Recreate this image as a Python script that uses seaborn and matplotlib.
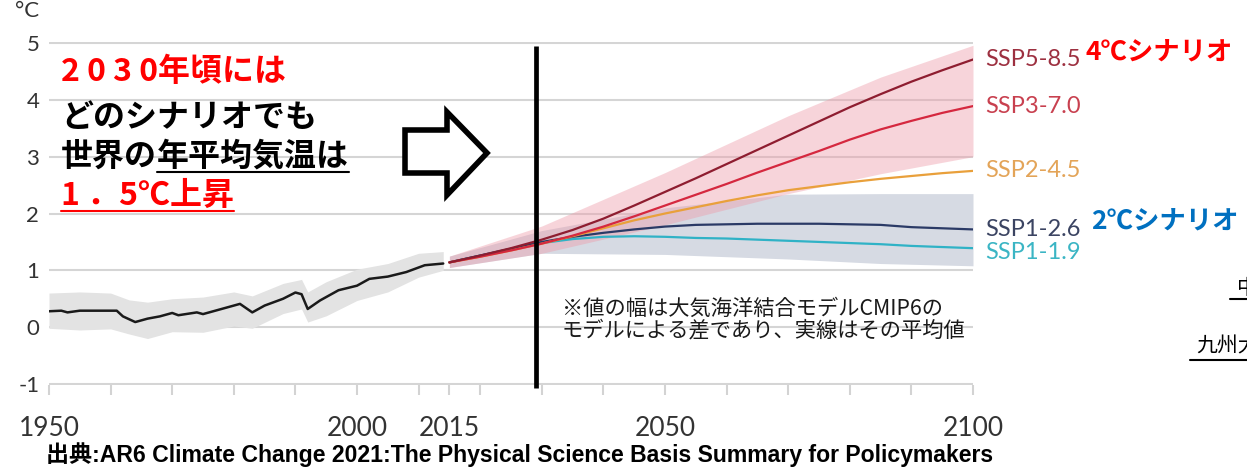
import pandas as pd
import seaborn as sns
import matplotlib.pyplot as plt
from matplotlib.patches import Polygon
from matplotlib.lines import Line2D

W, H = 1247, 469

# 観測期間（CMIP6 historical）
hist_years = [1950, 1952, 1953, 1955, 1961, 1962, 1964, 1966, 1968, 1970, 1971, 1974,
              1975, 1977, 1979, 1981, 1983, 1985, 1988, 1990, 1991, 1992, 1994, 1997,
              2000, 2002, 2005, 2008, 2011, 2014]
hist_temp = [0.28, 0.29, 0.26, 0.29, 0.29, 0.19, 0.09, 0.15, 0.19, 0.25, 0.21, 0.26,
             0.23, 0.29, 0.35, 0.41, 0.26, 0.38, 0.50, 0.61, 0.58, 0.32, 0.47, 0.65,
             0.73, 0.85, 0.89, 0.97, 1.09, 1.12]
hist_band_years = [1950, 1955, 1960, 1963, 1966, 1970, 1975, 1980, 1983, 1988, 1991,
                   1992, 1995, 2000, 2005, 2010, 2014]
hist_band_hi = [0.60, 0.62, 0.60, 0.48, 0.44, 0.50, 0.53, 0.62, 0.55, 0.77, 0.84,
                0.62, 0.80, 1.02, 1.12, 1.30, 1.33]
hist_band_lo = [-0.02, -0.05, -0.03, -0.12, -0.20, -0.08, -0.09, 0.02, -0.02, 0.24, 0.32,
                0.09, 0.20, 0.47, 0.62, 0.88, 1.00]

# シナリオ別予測
future_years = [2015, 2020, 2025, 2030, 2035, 2040, 2045, 2050, 2055, 2060,
                2065, 2070, 2075, 2080, 2085, 2090, 2095, 2100]
ssp585 = [1.14, 1.26, 1.39, 1.54, 1.71, 1.91, 2.14, 2.38, 2.62, 2.87,
          3.12, 3.37, 3.62, 3.87, 4.10, 4.32, 4.52, 4.71]
ssp370 = [1.14, 1.24, 1.35, 1.47, 1.61, 1.77, 1.95, 2.14, 2.33, 2.52,
          2.72, 2.91, 3.10, 3.30, 3.48, 3.63, 3.77, 3.89]
ssp245 = [1.14, 1.24, 1.35, 1.47, 1.60, 1.74, 1.88, 2.00, 2.11, 2.22,
          2.32, 2.41, 2.48, 2.55, 2.61, 2.66, 2.71, 2.75]
ssp126 = [1.14, 1.26, 1.38, 1.50, 1.59, 1.66, 1.72, 1.77, 1.80, 1.81,
          1.82, 1.82, 1.82, 1.81, 1.80, 1.76, 1.74, 1.72]
ssp119 = [1.14, 1.26, 1.38, 1.48, 1.55, 1.59, 1.60, 1.59, 1.57, 1.56,
          1.54, 1.52, 1.50, 1.48, 1.46, 1.43, 1.41, 1.39]

# モデル間の幅
range_years = [2015, 2030, 2050, 2070, 2085, 2100]
ssp370_hi = [1.25, 1.78, 2.72, 3.72, 4.40, 4.96]
ssp370_lo = [1.05, 1.30, 1.80, 2.35, 2.70, 3.00]
ssp126_hi = [1.25, 1.70, 2.10, 2.34, 2.35, 2.35]
ssp126_lo = [1.05, 1.30, 1.28, 1.20, 1.12, 1.08]

scenarios = ['SSP1-1.9', 'SSP1-2.6', 'SSP2-4.5', 'SSP3-7.0', 'SSP5-8.5']
line_colors = {'SSP1-1.9': '#2fb2c6', 'SSP1-2.6': '#2b3a66', 'SSP2-4.5': '#e9a03b',
               'SSP3-7.0': '#d5283f', 'SSP5-8.5': '#8e1d30'}
label_colors = {'SSP1-1.9': '#3bb5c4', 'SSP1-2.6': '#3b4462', 'SSP2-4.5': '#e3a458',
                'SSP3-7.0': '#c8404f', 'SSP5-8.5': '#9d3040'}

marker_year = 2029

df = pd.DataFrame({
    'year': future_years * 5,
    'temp': ssp119 + ssp126 + ssp245 + ssp370 + ssp585,
    'scenario': [s for s in scenarios for _ in future_years],
})

sns.set_theme(style="white")
plt.rcParams['font.family'] = ['Lato', 'Noto Sans CJK JP', 'DejaVu Sans']

fig = plt.figure(figsize=(W / 100, H / 100), dpi=100)
px_deg = 56.83
y_lo, y_hi = -1.02, 5.02
bottom_px = 384 + 0.02 * px_deg
ax = fig.add_axes([49 / W, 1 - bottom_px / H, (973 - 49) / W, (y_hi - y_lo) * px_deg / H])

# 帯
ax.fill_between(hist_band_years, hist_band_lo, hist_band_hi, color='#e3e3e3', lw=0)
ax.fill_between(range_years, ssp126_lo, ssp126_hi, color='#d6dae3', lw=0)
ax.fill_between(range_years, ssp370_lo, ssp370_hi, color='#ee9aa8', alpha=0.42, lw=0)

# 線
sns.lineplot(x=hist_years, y=hist_temp, color='#1a1a1a', linewidth=1.8, ax=ax)
sns.lineplot(data=df, x='year', y='temp', hue='scenario', hue_order=scenarios,
             palette=line_colors, linewidth=1.6, legend=False, ax=ax)

# 2030年頃の縦線
ax.plot([marker_year, marker_year], [-1.07, 4.94], color='black', lw=3.4,
        solid_capstyle='butt', clip_on=False)

ax.set_xlim(1950, 2100)
ax.set_ylim(y_lo, y_hi)
ax.set_xlabel('')
ax.set_ylabel('')
ax.set_xticks([1950, 2000, 2015, 2050, 2100])
ax.set_xticks([1960, 1970, 1980, 1990, 2010, 2020, 2030, 2040, 2060, 2070, 2080, 2090],
              minor=True)
ax.set_yticks([-1, 0, 1, 2, 3, 4, 5])
ax.set_yticklabels(['-1', '0', '1', '2', '3', '4', '5'])
ax.tick_params(axis='x', which='both', bottom=True, length=7.5, width=1.5,
               color='#d3d3d3', direction='out', pad=15, labelsize=19,
               labelcolor='#333333')
ax.tick_params(axis='y', which='both', left=False, length=0, pad=7, labelsize=16,
               labelcolor='#333333')
ax.yaxis.grid(True, color='#d5d5d5', lw=1.5)
ax.xaxis.grid(False)
ax.set_axisbelow(True)
for sp in ax.spines.values():
    sp.set_visible(False)

# シナリオ名
nudge = {'SSP1-1.9': -0.07, 'SSP1-2.6': 0.0, 'SSP2-4.5': 0.0, 'SSP3-7.0': 0.0, 'SSP5-8.5': 0.0}
for s in scenarios:
    last = df[df.scenario == s].temp.iloc[-1]
    ax.text(2102, last + nudge[s], s, color=label_colors[s], fontsize=17,
            va='center', ha='left', clip_on=False)

fig.text(39 / W, 1 - 17 / H, '°C', ha='right', va='baseline', fontsize=16, color='#333333')


def fy(y):
    return 1 - y / H


jp = ['Noto Sans CJK JP', 'DejaVu Sans']
renderer = fig.canvas.get_renderer()

fig.text(61 / W, fy(72.5), '2 0 3 0年頃には', color='#ff0000', fontsize=23,
         fontweight='bold', family=jp, va='center')
fig.text(61 / W, fy(117.5), 'どのシナリオでも', color='black', fontsize=23,
         fontweight='bold', family=jp, va='center')
t3a = fig.text(61 / W, fy(157), '世界の', color='black', fontsize=23,
               fontweight='bold', family=jp, va='center')
bb = t3a.get_window_extent(renderer)
t3b = fig.text(bb.x1 / W, fy(157), '年平均気温は', color='black', fontsize=23,
               fontweight='bold', family=jp, va='center')
bb3 = t3b.get_window_extent(renderer)
fig.add_artist(Line2D([bb3.x0 / W, bb3.x1 / W], [fy(172.5)] * 2, color='black', lw=1.5))
t4 = fig.text(61 / W, fy(196), '1 ．5℃上昇', color='#ff0000', fontsize=23,
              fontweight='bold', family=jp, va='center')
bb4 = t4.get_window_extent(renderer)
fig.add_artist(Line2D([bb4.x0 / W, bb4.x1 / W], [fy(211)] * 2, color='#ff0000', lw=1.5))

# 白抜き矢印
arrow_px = [(405, 130), (447, 130), (447, 112), (487, 153), (447, 195), (447, 173), (405, 173)]
fig.add_artist(Polygon([(x / W, fy(y)) for x, y in arrow_px], closed=True,
                       facecolor='white', edgecolor='black', lw=4, joinstyle='miter',
                       transform=fig.transFigure))

fig.text(562 / W, fy(308.5), '※値の幅は大気海洋結合モデルCMIP6の', fontsize=15.3,
         family=jp, color='#1a1a1a', va='center')
fig.text(562 / W, fy(330), 'モデルによる差であり、実線はその平均値', fontsize=15.3,
         family=jp, color='#1a1a1a', va='center')

fig.text(1086 / W, fy(52.5), '4℃シナリオ', fontsize=19, fontweight='bold',
         family=jp, color='#ff0000', va='center')
fig.text(1091 / W, fy(222), '2℃シナリオ', fontsize=19, fontweight='bold',
         family=jp, color='#0070c0', va='center')

# 右端で切れている注記（元画像でも切れている）
fig.text(1237 / W, fy(287.5), '中', fontsize=15, family=jp, color='black', va='center')
fig.add_artist(Line2D([1230 / W, 1.0], [fy(299)] * 2, color='black', lw=1.5))
fig.text(1196 / W, fy(346.5), '九州大', fontsize=15, family=jp, color='black', va='center')
fig.add_artist(Line2D([1190 / W, 1.0], [fy(360)] * 2, color='black', lw=1.5))

fig.text(46 / W, fy(455), '出典:AR6 Climate Change 2021:The Physical Science Basis Summary for Policymakers',
         fontsize=16.6, fontweight='bold', family=['Liberation Sans', 'Noto Sans CJK JP'],
         color='black', va='center')

fig.savefig('out.png', dpi=100, facecolor='white')
